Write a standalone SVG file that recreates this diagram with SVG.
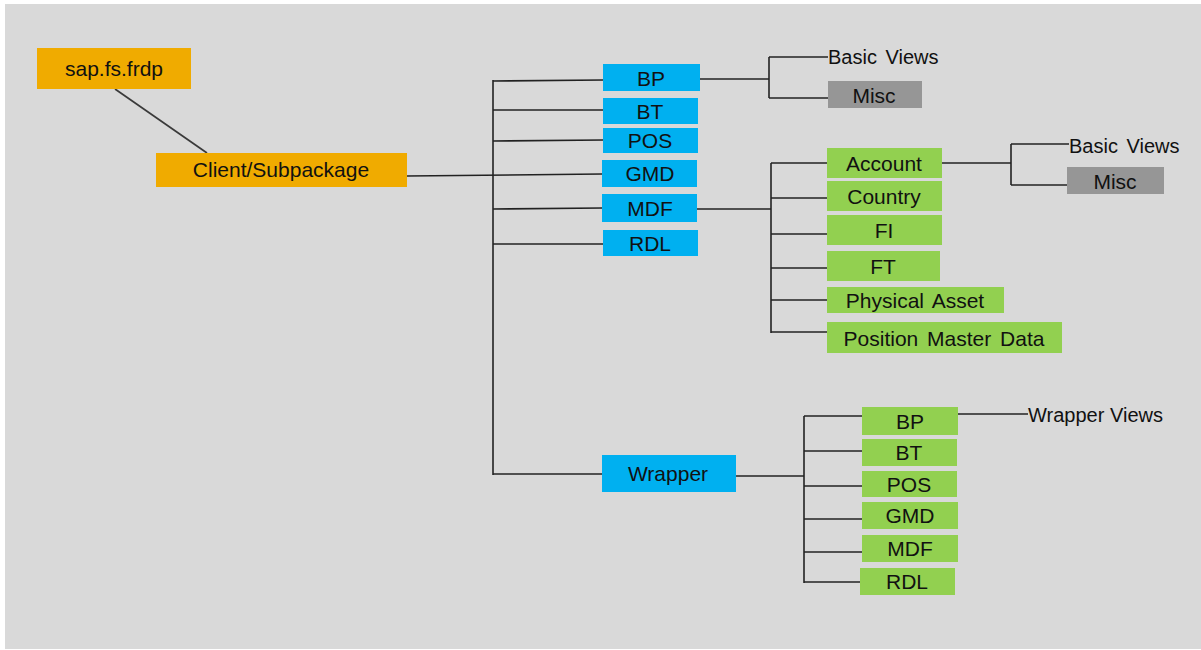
<svg xmlns="http://www.w3.org/2000/svg" width="1201" height="650" viewBox="0 0 1201 650">
<style>
.t{font-family:"Liberation Sans",Arial,sans-serif;font-size:21px;fill:#111;text-anchor:middle}
.l{font-family:"Liberation Sans",Arial,sans-serif;font-size:20px;fill:#111}
.o{fill:#f0ab00}
.b{fill:#00b0f0}
.g{fill:#92d050}
.m{fill:#969696}
.c line{stroke:#222;stroke-width:1.6;fill:none}
</style>
<rect x="0" y="0" width="1201" height="650" fill="#fff"/>
<rect x="5" y="4" width="1196" height="645" fill="#d9d9d9"/>
<g class="c" id="connectors">
<line x1="115" y1="89" x2="207" y2="153" style="stroke:#3a3a3a"/>
<line x1="407" y1="176" x2="602" y2="174"/>
<line x1="493" y1="80" x2="493" y2="475"/>
<line x1="493" y1="81" x2="603" y2="80"/>
<line x1="493" y1="110" x2="603" y2="110"/>
<line x1="493" y1="141" x2="603" y2="140"/>
<line x1="493" y1="209" x2="602" y2="208"/>
<line x1="493" y1="244" x2="603" y2="244"/>
<line x1="493" y1="474" x2="602" y2="474"/>
<line x1="700" y1="79" x2="769" y2="79"/>
<line x1="769" y1="57" x2="769" y2="98"/>
<line x1="769" y1="57" x2="828" y2="57"/>
<line x1="769" y1="98" x2="828" y2="98"/>
<line x1="697" y1="209" x2="771" y2="209"/>
<line x1="771" y1="163" x2="771" y2="333"/>
<line x1="771" y1="163" x2="827" y2="163"/>
<line x1="771" y1="198" x2="827" y2="198"/>
<line x1="771" y1="234" x2="827" y2="234"/>
<line x1="771" y1="268" x2="827" y2="268"/>
<line x1="771" y1="300" x2="827" y2="300"/>
<line x1="771" y1="332" x2="827" y2="332"/>
<line x1="942" y1="163" x2="1011" y2="163"/>
<line x1="1011" y1="144" x2="1011" y2="185"/>
<line x1="1011" y1="144" x2="1069" y2="144"/>
<line x1="1011" y1="185" x2="1067" y2="185"/>
<line x1="736" y1="476" x2="804" y2="476"/>
<line x1="804" y1="416" x2="804" y2="583"/>
<line x1="804" y1="416" x2="862" y2="416"/>
<line x1="804" y1="451" x2="862" y2="451"/>
<line x1="804" y1="486" x2="862" y2="486"/>
<line x1="804" y1="519" x2="862" y2="519"/>
<line x1="804" y1="552" x2="862" y2="552"/>
<line x1="804" y1="582" x2="860" y2="582"/>
<line x1="958" y1="414" x2="1028" y2="414"/>
</g>
<g id="n-sap"><rect class="o" x="37" y="48" width="154" height="41"/><text class="t" x="114" y="76">sap.fs.frdp</text></g>
<g id="n-client"><rect class="o" x="156" y="153" width="251" height="34"/><text class="t" x="281" y="177">Client/Subpackage</text></g>
<g id="n-bp"><rect class="b" x="603" y="64" width="97" height="27"/><text class="t" x="651" y="86">BP</text></g>
<g id="n-bt"><rect class="b" x="603" y="98" width="95" height="26"/><text class="t" x="650" y="119">BT</text></g>
<g id="n-pos"><rect class="b" x="603" y="128" width="95" height="25"/><text class="t" x="650" y="148">POS</text></g>
<g id="n-gmd"><rect class="b" x="602" y="160" width="95" height="27"/><text class="t" x="650" y="181">GMD</text></g>
<g id="n-mdf"><rect class="b" x="602" y="194" width="95" height="28"/><text class="t" x="650" y="216">MDF</text></g>
<g id="n-rdl"><rect class="b" x="603" y="230" width="95" height="26"/><text class="t" x="650" y="251">RDL</text></g>
<g id="n-wrapper"><rect class="b" x="602" y="455" width="134" height="37"/><text class="t" x="668" y="481">Wrapper</text></g>
<g id="n-basic1"><text class="l" x="828" y="64" word-spacing="3">Basic Views</text></g>
<g id="n-misc1"><rect class="m" x="828" y="81" width="94" height="27"/><text class="t" x="874" y="103">Misc</text></g>
<g id="n-account"><rect class="g" x="827" y="148" width="115" height="30"/><text class="t" x="884" y="171">Account</text></g>
<g id="n-country"><rect class="g" x="827" y="181" width="115" height="30"/><text class="t" x="884" y="204">Country</text></g>
<g id="n-fi"><rect class="g" x="827" y="215" width="115" height="30"/><text class="t" x="884" y="238">FI</text></g>
<g id="n-ft"><rect class="g" x="827" y="251" width="113" height="30"/><text class="t" x="883" y="274">FT</text></g>
<g id="n-pa"><rect class="g" x="827" y="287" width="177" height="26"/><text class="t" x="915" y="308" word-spacing="3">Physical Asset</text></g>
<g id="n-pmd"><rect class="g" x="827" y="322" width="235" height="31"/><text class="t" x="944" y="346" word-spacing="3">Position Master Data</text></g>
<g id="n-basic2"><text class="l" x="1069" y="153" word-spacing="3">Basic Views</text></g>
<g id="n-misc2"><rect class="m" x="1067" y="167" width="97" height="27"/><text class="t" x="1115" y="189">Misc</text></g>
<g id="n-wbp"><rect class="g" x="862" y="407" width="96" height="28"/><text class="t" x="910" y="429">BP</text></g>
<g id="n-wbt"><rect class="g" x="862" y="439" width="95" height="27"/><text class="t" x="909" y="460">BT</text></g>
<g id="n-wpos"><rect class="g" x="862" y="471" width="95" height="26"/><text class="t" x="909" y="492">POS</text></g>
<g id="n-wgmd"><rect class="g" x="862" y="502" width="96" height="27"/><text class="t" x="910" y="523">GMD</text></g>
<g id="n-wmdf"><rect class="g" x="862" y="535" width="96" height="27"/><text class="t" x="910" y="556">MDF</text></g>
<g id="n-wrdl"><rect class="g" x="860" y="568" width="95" height="27"/><text class="t" x="907" y="589">RDL</text></g>
<g id="n-wviews"><text class="l" x="1028" y="422" textLength="135" lengthAdjust="spacingAndGlyphs">Wrapper Views</text></g>
</svg>
